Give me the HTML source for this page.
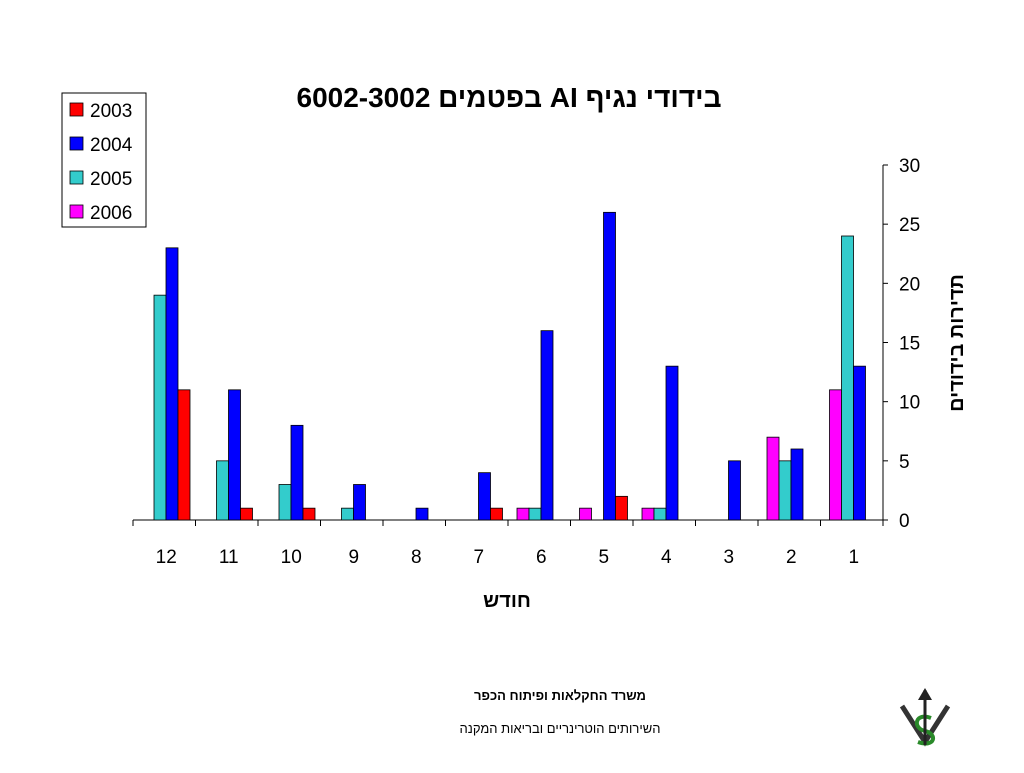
<!DOCTYPE html>
<html><head><meta charset="utf-8"><style>
body{margin:0;background:#fff;width:1024px;height:768px;overflow:hidden;font-family:"Liberation Sans","Noto Sans CJK SC",sans-serif;}
svg text{font-family:"Liberation Sans","DejaVu Sans",sans-serif;}
</style></head><body>
<svg id="chart" width="1024" height="768">
<text x="509" y="107" font-size="28" font-weight="bold" text-anchor="middle" direction="rtl">בידודי נגיף AI בפטמים 6002-3002</text>
<g id="axes"></g>
<g id="bars"></g>
<text x="507" y="607" font-size="20" font-weight="bold" text-anchor="middle">חודש</text>
<text transform="translate(963,343) rotate(-90)" font-size="20" font-weight="bold" text-anchor="middle" direction="rtl">תדירות בידודים</text>
<g>
<rect x="62" y="93" width="84" height="134" fill="#fff" stroke="#000" stroke-width="1"/>
<g id="legend-items"></g>
</g>
<text x="560" y="700" font-size="13" font-weight="bold" text-anchor="middle" direction="rtl">משרד החקלאות ופיתוח הכפר</text>
<text x="560" y="733" font-size="13" text-anchor="middle" direction="rtl">השירותים הוטרינריים ובריאות המקנה</text>
<g>
<path d="M902 706 L925 742 L948 706" fill="none" stroke="#333" stroke-width="5"/>
<path d="M931 718 C915 712 912 728 925 731 C938 734 935 748 918 742" fill="none" stroke="#2a8a2a" stroke-width="4"/>
<line x1="925" y1="690" x2="925" y2="745" stroke="#222" stroke-width="3"/>
<polygon points="918,700 925,688 932,700" fill="#222"/>
</g>
</svg>
<script>
const categories=[12,11,10,9,8,7,6,5,4,3,2,1];
const series2003=[11,1,1,0,0,1,0,2,0,0,0,0];
const series2004=[23,11,8,3,1,4,16,26,13,5,6,13];
const series2005=[19,5,3,1,0,0,1,0,1,0,5,24];
const series2006=[0,0,0,0,0,0,1,1,1,0,7,11];
const yTicks=[0,5,10,15,20,25,30];
const seriesNames=["2003","2004","2005","2006"];
const seriesColors=["#ff0000","#0000ff","#33cccc","#ff00ff"];
const NS="http://www.w3.org/2000/svg";
const x0=133,x1=883,y0=520,y1=165,yMax=30;
const cw=(x1-x0)/categories.length;
function yS(v){return y0-(v/yMax)*(y0-y1);}
function xS(i){return x0+i*cw;}
function mk(tag,attrs,parent){const e=document.createElementNS(NS,tag);for(const k in attrs)e.setAttribute(k,attrs[k]);parent.appendChild(e);return e;}
const axes=document.getElementById('axes');
let l=mk('line',{x1:x0,y1:y0,x2:x1,y2:y0,stroke:'#000'},axes);


l=mk('line',{x1:x1,y1:y0,x2:x1,y2:y1,stroke:'#000'},axes);


yTicks.forEach(t=>{
 mk('line',{x1:x1,y1:yS(t),x2:x1+5,y2:yS(t),stroke:'#000'},axes);
 const tx=mk('text',{x:x1+16,y:yS(t)+7,'font-size':19},axes);tx.textContent=t;
 
 
});
for(let i=0;i<=categories.length;i++)mk('line',{x1:xS(i),y1:y0,x2:xS(i),y2:y0+6,stroke:'#000'},axes);
categories.forEach((c,i)=>{
 const tx=mk('text',{x:xS(i)+cw/2+2,y:563,'font-size':19,'text-anchor':'middle'},axes);tx.textContent=c;
 
 
});
const bars=document.getElementById('bars');
const order=[series2006,series2005,series2004,series2003];
const orderColors=["#ff00ff","#33cccc","#0000ff","#ff0000"];
const orderNames=["2006","2005","2004","2003"];
const bw=12;
categories.forEach((c,i)=>{
 order.forEach((s,j)=>{
  const v=s[i]; if(!v) return;
  const bx=xS(i)+9+j*bw;
  const r=mk('rect',{x:bx,y:yS(v),width:bw,height:y0-yS(v),fill:orderColors[j],stroke:'#000','stroke-width':0.8},bars);
  
  
 });
});
const lg=document.getElementById('legend-items');
seriesNames.forEach((n,i)=>{
 const y=110+i*34;
 const r=mk('rect',{x:70,y:y-7,width:13,height:13,fill:seriesColors[i],stroke:'#000','stroke-width':0.8},lg);
 
 
 const t=mk('text',{x:90,y:y+7,'font-size':19},lg);t.textContent=n;
 
 
});
</script>
</body></html>
